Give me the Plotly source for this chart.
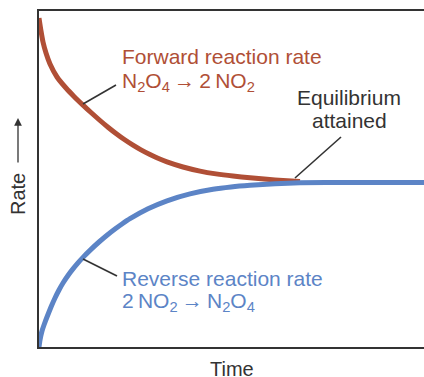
import plotly.graph_objects as go

# Forward reaction rate (N2O4 -> 2 NO2), decays toward equilibrium
fwd_time = [0, 2, 4, 7, 11, 18, 27, 35, 44, 52, 61, 69, 77, 85, 94, 102, 111, 119,
            128, 144, 161, 177, 194, 211, 228, 244, 261]
fwd_rate = [329, 316, 305, 294, 283, 270, 259, 250.6, 241.9, 234.5, 226.5, 219.8, 213.5, 207.7,
            201.8, 197.1, 192.4, 188.7, 185.1, 180, 175.9, 173.1, 170.9, 169.2, 167.7, 166.5, 165.5]

# Reverse reaction rate (2 NO2 -> N2O4), rises toward equilibrium
rev_time = [0, 1, 3, 5, 8, 12, 16, 20, 24, 29, 34, 39, 44, 52, 60, 68, 76, 83, 91,
            109, 128, 151, 174, 192, 211, 236, 261, 311, 385]
rev_rate = [0, 7, 16, 22, 30, 40, 49, 57, 64, 71.5, 78.1, 84.1, 89.6, 97.6, 105, 111.8, 118, 123,
            128.3, 138.2, 146.2, 153.1, 157.7, 160, 161.7, 163.3, 164.2, 164.6, 164.6]

RED = "#B04F36"
BLUE = "#5C84C6"
DARK = "#333333"
FONT = "Liberation Sans, Arial, Helvetica, sans-serif"

W, H = 424, 377
L, R, T, B = 39, 0, 11, 30
XMAX, YMAX = 385, 336

fig = go.Figure()
fig.add_trace(go.Scatter(x=fwd_time, y=fwd_rate, mode="lines",
                         line=dict(color=RED, width=5, shape="spline", smoothing=0.5),
                         hoverinfo="skip", showlegend=False))
fig.add_trace(go.Scatter(x=rev_time, y=rev_rate, mode="lines",
                         line=dict(color=BLUE, width=5, shape="spline", smoothing=0.5),
                         hoverinfo="skip", showlegend=False))

def px(xp):
    return xp - L

def py(yp):
    return (H - B) - yp

def ppx(xp):
    return (xp - L) / XMAX

def ppy(yp):
    return ((H - B) - yp) / YMAX

# leader lines
for (x0, y0, x1, y1) in [(83, 104, 116, 85), (83, 259, 117, 276), (295, 178, 341, 137)]:
    fig.add_shape(type="line", x0=px(x0), y0=py(y0), x1=px(x1), y1=py(y1),
                  line=dict(color=DARK, width=1.6), layer="above")

def label(text, xp, yp, color, anchor="left", size=21):
    fig.add_annotation(text=text, x=ppx(xp), y=ppy(yp), xref="paper", yref="paper",
                       xanchor=anchor, yanchor="middle", showarrow=False,
                       font=dict(family=FONT, size=size, color=color))

label("Forward reaction rate", 120, 57, RED)
label("N<sub>2</sub>O<sub>4</sub>\u2009→\u20092\u2009NO<sub>2</sub>", 120, 82, RED)
label("Reverse reaction rate", 120, 278, BLUE)
label("2\u2009NO<sub>2</sub>\u2009→\u2009N<sub>2</sub>O<sub>4</sub>", 120, 302, BLUE)
label("Equilibrium", 349, 98, DARK, anchor="center")
label("attained", 349, 121, DARK, anchor="center")

# axis titles
fig.add_annotation(text="Rate", x=ppx(18), y=ppy(194), xref="paper", yref="paper",
                   textangle=-90, showarrow=False, xanchor="center", yanchor="middle",
                   font=dict(family=FONT, size=20, color=DARK))
fig.add_annotation(text="", x=ppx(18), y=ppy(118), xref="paper", yref="paper",
                   ax=0, ay=46, showarrow=True, arrowhead=2, arrowsize=1.2,
                   arrowwidth=1.3, arrowcolor=DARK)
fig.add_annotation(text="Time", x=ppx(232), y=ppy(369), xref="paper", yref="paper",
                   showarrow=False, xanchor="center", yanchor="middle",
                   font=dict(family=FONT, size=20, color=DARK))

fig.update_layout(
    width=W, height=H,
    margin=dict(l=L, r=R, t=T, b=B),
    paper_bgcolor="white", plot_bgcolor="white",
    showlegend=False,
)
fig.update_xaxes(range=[0, XMAX], showgrid=False, zeroline=False, showticklabels=False,
                 ticks="", showline=True, linecolor=DARK, linewidth=2, mirror=True)
fig.update_yaxes(range=[0, YMAX], showgrid=False, zeroline=False, showticklabels=False,
                 ticks="", showline=True, linecolor=DARK, linewidth=2, mirror=False)

fig.write_html("out.html", config={"displayModeBar": False},
               post_script="document.body.style.margin='0';document.body.style.overflow='hidden';")
